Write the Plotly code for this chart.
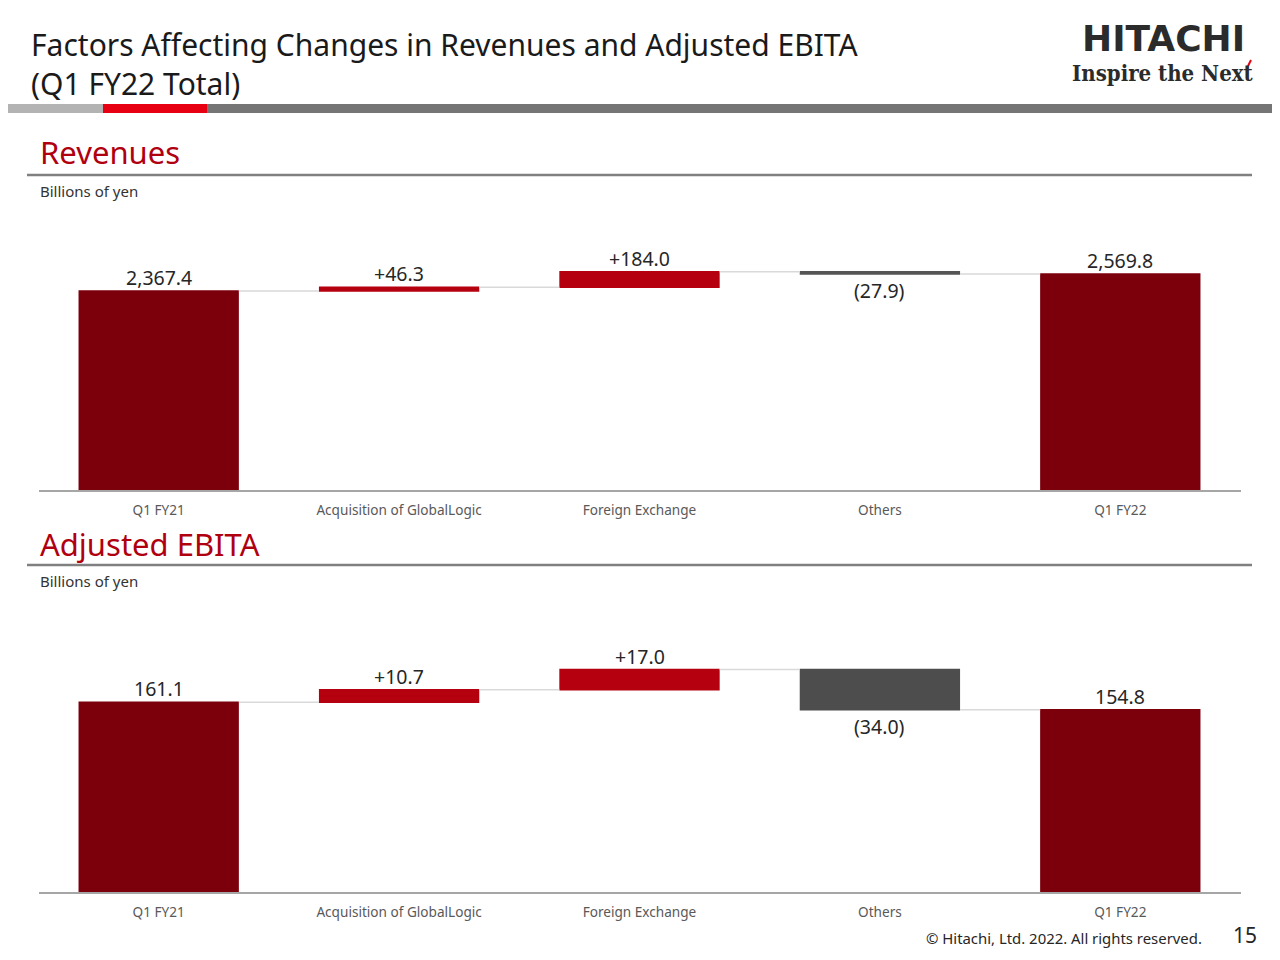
import plotly.graph_objects as go

categories = ["Q1 FY21", "Acquisition of GlobalLogic", "Foreign Exchange", "Others", "Q1 FY22"]
measures = ["absolute", "relative", "relative", "relative", "total"]

rev_values = [2367.4, 46.3, 184.0, -27.9, 2569.8]
rev_labels = ["2,367.4", "+46.3", "+184.0", "(27.9)", "2,569.8"]

ebita_values = [161.1, 10.7, 17.0, -34.0, 154.8]
ebita_labels = ["161.1", "+10.7", "+17.0", "(34.0)", "154.8"]

OFF = 8  # page body margin
W, H = 1280 - OFF, 960 - OFF
FONT = "Noto Sans, Open Sans, DejaVu Sans, sans-serif"
DARK_RED = "#7B000C"
RED = "#B5000F"
GRAY_BAR = "#4D4D4D"


def py(p):
    return 1 - (p - OFF) / H


def px(p):
    return (p - OFF) / W


fig = go.Figure()


def add_waterfall(values, xa, ya, others_color):
    fig.add_trace(go.Waterfall(
        x=categories, y=values, measure=measures,
        xaxis=xa, yaxis=ya,
        width=0.667,
        increasing=dict(marker=dict(color=RED)),
        decreasing=dict(marker=dict(color=others_color)),
        totals=dict(marker=dict(color=DARK_RED)),
        connector=dict(line=dict(color="#D9D9D9", width=1.5)),
        showlegend=False, hoverinfo="skip",
    ))


add_waterfall(rev_values, "x", "y", "#555555")
add_waterfall(ebita_values, "x2", "y2", GRAY_BAR)


def add_labels(values, labels, xref, yref):
    cum = 0
    for i, (v, lab) in enumerate(zip(values, labels)):
        m = measures[i]
        if m == "absolute":
            cum = v
            yy, yanchor = v, "bottom"
        elif m == "total":
            yy, yanchor = cum, "bottom"
        else:
            start = cum
            cum = cum + v
            if v >= 0:
                yy, yanchor = cum, "bottom"
            else:
                yy, yanchor = start + v, "top"
        fig.add_annotation(
            x=categories[i], y=yy, xref=xref, yref=yref, text=lab,
            showarrow=False, yanchor=yanchor, yshift=-2 if yanchor == "bottom" else -1,
            font=dict(family=FONT, size=19.5, color="#262626"),
        )


add_labels(rev_values, rev_labels, "x", "y")
add_labels(ebita_values, ebita_labels, "x2", "y2")

xdom = [px(38.5), px(1240.5)]
axis_common = dict(
    showgrid=False, zeroline=False, showline=True, linecolor="#A6A6A6", linewidth=1.5,
    ticks="", tickfont=dict(family=FONT, size=13.6, color="#595959"), ticklabelstandoff=7,
    fixedrange=True,
)
yaxis_common = dict(showgrid=False, zeroline=False, showticklabels=False, showline=False, fixedrange=True)

fig.update_layout(
    width=W, height=H, margin=dict(l=0, r=0, t=0, b=0),
    paper_bgcolor="white", plot_bgcolor="white",
    xaxis=dict(domain=xdom, anchor="y", **axis_common),
    yaxis=dict(domain=[py(490), py(200)], range=[0, 290 * 11.9], anchor="x", **yaxis_common),
    xaxis2=dict(domain=xdom, anchor="y2", **axis_common),
    yaxis2=dict(domain=[py(892), py(600)], range=[0, 292 * 0.849], anchor="x2", **yaxis_common),
)

# Header title (two lines, one text block)
fig.add_annotation(
    x=px(29), y=py(64), xref="paper", yref="paper", xanchor="left", yanchor="middle",
    text="Factors Affecting Changes in Revenues and Adjusted EBITA<br>(Q1 FY22 Total)",
    align="left", showarrow=False,
    font=dict(family=FONT, size=30, color="#1A1A1A"),
)
# Logo
fig.add_annotation(
    x=px(1247), y=py(39), xref="paper", yref="paper", xanchor="right", yanchor="middle",
    text="<b>HITACHI</b>", showarrow=False,
    font=dict(family="DejaVu Sans, sans-serif", size=36, color="#2B2B2B"),
)
fig.add_annotation(
    x=px(1256), y=py(73), xref="paper", yref="paper", xanchor="right", yanchor="middle",
    text="<b>Inspire the Next</b>", showarrow=False,
    font=dict(family="DejaVu Serif Condensed, DejaVu Serif, serif", size=22, color="#2B2B2B"),
)
fig.add_shape(type="line", xref="paper", yref="paper", x0=px(1248), y0=py(66), x1=px(1251), y1=py(60),
              line=dict(color="#E60012", width=2))

# Header band
for x0, x1, c in [(OFF, 103, "#B3B3B3"), (103, 207, "#E60012"), (207, 1280, "#757575")]:
    fig.add_shape(type="rect", xref="paper", yref="paper", x0=px(x0), x1=px(x1),
                  y0=py(113), y1=py(104), fillcolor=c, line=dict(width=0), layer="above")

# Section headers
for title, ty, ly, by in [("Revenues", 152, 175, 191), ("Adjusted EBITA", 544, 565, 581)]:
    fig.add_annotation(
        x=px(38), y=py(ty), xref="paper", yref="paper", xanchor="left", yanchor="middle",
        text=title, showarrow=False, font=dict(family=FONT, size=31, color="#B0000F"),
    )
    fig.add_shape(type="line", xref="paper", yref="paper", x0=px(27), x1=px(1252),
                  y0=py(ly), y1=py(ly), line=dict(color="#808080", width=2.5))
    fig.add_annotation(
        x=px(38), y=py(by), xref="paper", yref="paper", xanchor="left", yanchor="middle",
        text="Billions of yen", showarrow=False, font=dict(family=FONT, size=15, color="#333333"),
    )

# Footer
fig.add_annotation(
    x=px(1204), y=py(938), xref="paper", yref="paper", xanchor="right", yanchor="middle",
    text="© Hitachi, Ltd. 2022. All rights reserved.", showarrow=False,
    font=dict(family=FONT, size=14.9, color="#262626"),
)
fig.add_annotation(
    x=px(1259), y=py(935), xref="paper", yref="paper", xanchor="right", yanchor="middle",
    text="15", showarrow=False, font=dict(family=FONT, size=21, color="#262626"),
)

fig.write_html("out.html")
